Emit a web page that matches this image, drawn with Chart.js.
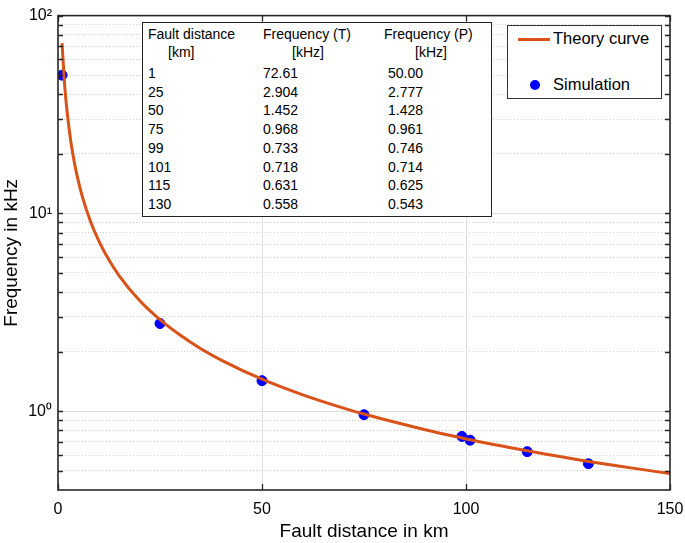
<!DOCTYPE html>
<html>
<head>
<meta charset="utf-8">
<script src="https://cdn.jsdelivr.net/npm/chart.js@4.4.1/dist/chart.umd.min.js"></script>
<style>
  body { margin: 0; background: #fff; font-family: "Liberation Sans", Arial, sans-serif; }
  #wrap { position: relative; width: 685px; height: 543px; }
  #faultTable {
    position: absolute; left: 142px; top: 22px; width: 348px; height: 193px;
    border: 1.6px solid #222; background: #fff; font-size: 14px; color: #000;
  }
  #faultTable .row { position: absolute; left: 0; height: 18px; line-height: 18px; white-space: nowrap; }
  #faultTable .c { position: absolute; }
  #legendBox {
    position: absolute; left: 507px; top: 25px; width: 153px; height: 72px;
    border: 1.6px solid #333; background: #fff; font-size: 16.5px;
  }
</style>
</head>
<body>
<div id="wrap">
  <canvas id="freqChart" width="685" height="543"></canvas>
  <div id="faultTable"></div>
  <div id="legendBox">
    <div style="position:absolute;left:10px;top:12px;width:32px;height:3px;background:#D95319"></div>
    <div style="position:absolute;left:45px;top:3px">Theory curve</div>
    <div style="position:absolute;left:22px;top:54px;width:10px;height:10px;border-radius:50%;background:#0000ff"></div>
    <div style="position:absolute;left:45px;top:49px">Simulation</div>
  </div>
</div>
<script>
// theory curve
const theoryKm = [1, 1.5, 2, 3, 4, 5, 6, 8, 10, 12, 15, 20, 25, 30, 35, 40, 50, 60, 70, 75, 80, 90, 99, 101, 110, 115, 120, 130, 140, 150];
const theoryFreq = [72.61, 48.4, 36.3, 24.2, 18.15, 14.52, 12.1, 9.08, 7.26, 6.05, 4.84, 3.63, 2.904, 2.42, 2.07, 1.815, 1.452, 1.21, 1.037, 0.968, 0.908, 0.807, 0.733, 0.718, 0.660, 0.631, 0.605, 0.558, 0.519, 0.484];

// simulation points / table
const faultKm = [1, 25, 50, 75, 99, 101, 115, 130];
const tableTheory = [72.61, 2.904, 1.452, 0.968, 0.733, 0.718, 0.631, 0.558];
const simFreq = [50.00, 2.777, 1.428, 0.961, 0.746, 0.714, 0.625, 0.543];

const yTicks = [0.5, 0.6, 0.7, 0.8, 0.9, 1, 2, 3, 4, 5, 6, 7, 8, 9, 10, 20, 30, 40, 50, 60, 70, 80, 90, 100];
const yLabels = { 1: '10\u2070', 10: '10\u00b9', 100: '10\u00b2' };
const xTicks = [0, 50, 100, 150];

const FONT = '"Liberation Sans", Arial, sans-serif';

// table
const fmt = v => v >= 10 ? v.toFixed(2) : v.toFixed(3);
const tbl = document.getElementById('faultTable');
let html = '';
html += '<div class="row" style="top:2px"><span class="c" style="left:5px">Fault distance</span><span class="c" style="left:120px">Frequency (T)</span><span class="c" style="left:241px">Frequency (P)</span></div>';
html += '<div class="row" style="top:20px"><span class="c" style="left:25px">[km]</span><span class="c" style="left:149px">[kHz]</span><span class="c" style="left:272px">[kHz]</span></div>';
faultKm.forEach((km, i) => {
  const top = 41 + i * 18.7;
  html += `<div class="row" style="top:${top}px"><span class="c" style="left:5px">${km}</span><span class="c" style="left:120px">${fmt(tableTheory[i])}</span><span class="c" style="left:245px">${fmt(simFreq[i])}</span></div>`;
});
tbl.innerHTML = html;

// box + inward ticks like matlab
const boxPlugin = {
  id: 'boxPlugin',
  afterDraw(chart) {
    const { ctx, chartArea: a, scales } = chart;
    ctx.save();
    ctx.strokeStyle = '#262626';
    ctx.lineWidth = 1.3;
    ctx.beginPath();
    yTicks.forEach(v => {
      const y = Math.round(scales.y.getPixelForValue(v)) + 0.5;
      ctx.moveTo(a.left, y); ctx.lineTo(a.left + 5, y);
      ctx.moveTo(a.right, y); ctx.lineTo(a.right - 5, y);
    });
    xTicks.forEach(v => {
      const x = Math.round(scales.x.getPixelForValue(v)) + 0.5;
      ctx.moveTo(x, a.bottom); ctx.lineTo(x, a.bottom - 6);
      ctx.moveTo(x, a.top); ctx.lineTo(x, a.top + 6);
    });
    ctx.stroke();
    ctx.lineWidth = 1.6;
    ctx.strokeRect(a.left, a.top, a.right - a.left, a.bottom - a.top);
    ctx.restore();
  }
};

new Chart(document.getElementById('freqChart'), {
  type: 'line',
  data: {
    datasets: [{
      label: 'Theory curve',
      data: theoryKm.map((x, i) => ({ x: x, y: theoryFreq[i] })),
      borderColor: '#D95319',
      borderWidth: 3,
      pointRadius: 0,
      cubicInterpolationMode: 'monotone',
      fill: false
    }, {
      label: 'Simulation',
      data: faultKm.map((x, i) => ({ x: x, y: simFreq[i] })),
      showLine: false,
      pointRadius: 5,
      pointBackgroundColor: '#0000ff',
      pointBorderColor: '#0000ff',
      pointBorderWidth: 1
    }]
  },
  options: {
    responsive: false,
    animation: false,
    layout: { padding: { top: 11, right: 15, left: 0, bottom: 0 } },
    plugins: { legend: { display: false }, tooltip: { enabled: false } },
    scales: {
      x: {
        type: 'linear',
        min: 0, max: 150,
        afterBuildTicks: s => { s.ticks = xTicks.map(v => ({ value: v })); },
        afterFit: s => { s.height = 53; s.paddingRight = 0; s.paddingLeft = 0; },
        ticks: { font: { family: FONT, size: 16 }, color: '#000', padding: 10, maxRotation: 0 },
        grid: {
          drawTicks: false,
          color: c => (c.tick && (c.tick.value === 50 || c.tick.value === 100)) ? '#dedede' : 'rgba(0,0,0,0)',
          lineWidth: 1
        },
        border: { display: false },
        title: { display: true, text: 'Fault distance in km', font: { family: FONT, size: 19 }, color: '#000', padding: { top: 4, bottom: 0 } }
      },
      y: {
        type: 'logarithmic',
        min: 0.4, max: 100,
        afterBuildTicks: s => { s.ticks = yTicks.map(v => ({ value: v })); },
        afterFit: s => { s.width = 58; },
        ticks: {
          font: { family: FONT, size: 16 }, color: '#000', padding: 6,
          autoSkip: false,
          callback: v => yLabels[v] || ''
        },
        grid: {
          drawTicks: false,
          color: c => (c.tick && yLabels[c.tick.value]) ? '#dedede' : '#cfcfcf',
          lineWidth: 1
        },
        border: {
          display: false,
          dash: c => (c.tick && yLabels[c.tick.value]) ? [] : [1, 2]
        },
        title: { display: true, text: 'Frequency in kHz', font: { family: FONT, size: 19 }, color: '#000', padding: { top: 0, bottom: 4 } }
      }
    }
  },
  plugins: [boxPlugin]
});
</script>
</body>
</html>
